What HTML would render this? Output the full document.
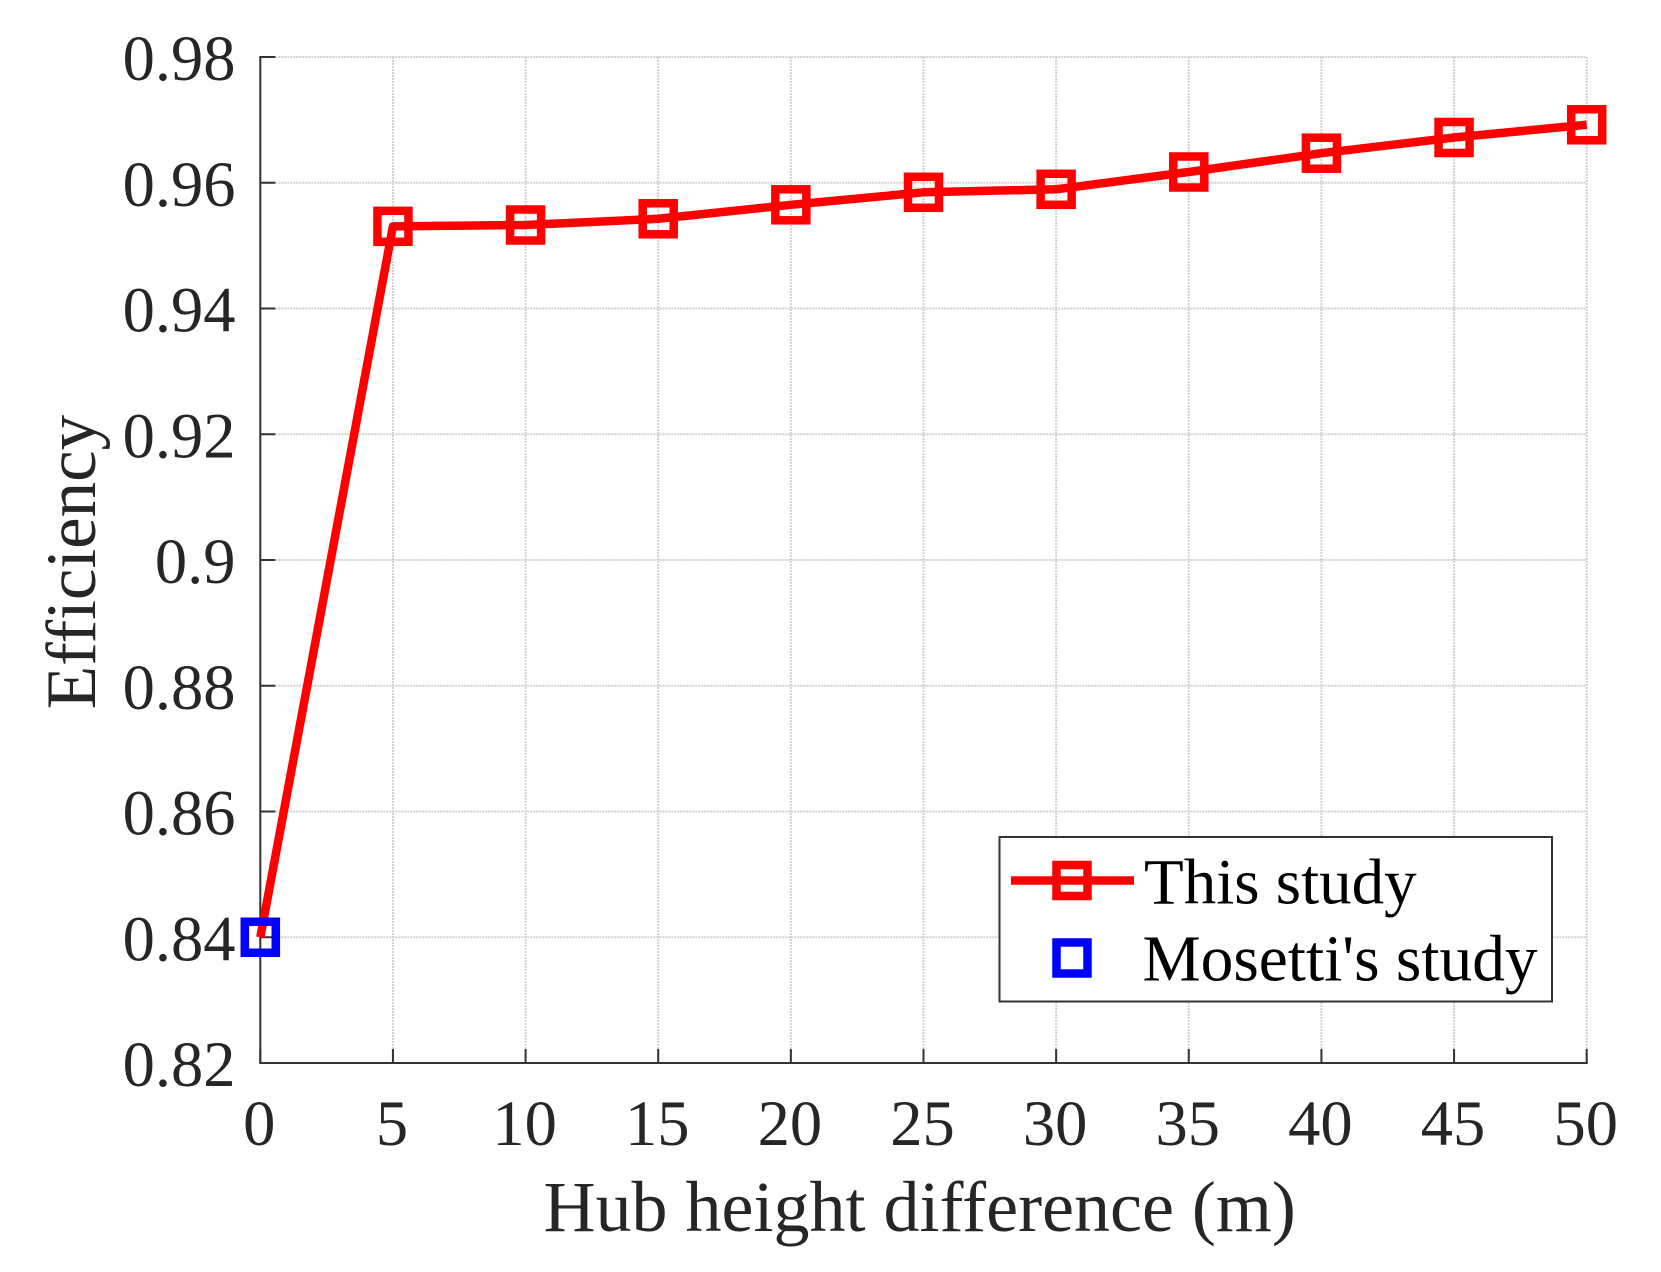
<!DOCTYPE html>
<html lang="en">
<head>
<meta charset="utf-8">
<title>Efficiency vs hub height difference</title>
<style>
  html, body { margin: 0; padding: 0; background: #fff; }
  svg { display: block; font-family: "Liberation Serif", "Times New Roman", serif; }
</style>
</head>
<body>
<svg id="chart" xmlns="http://www.w3.org/2000/svg" width="1661" height="1272" viewBox="0 0 1661 1272">
  <rect x="0" y="0" width="1661" height="1272" fill="#ffffff"/>
  <g id="grid"></g>
  <g id="axes"></g>
  <g id="series"></g>
  <text x="543.5" y="1231" font-size="72" fill="#262626">Hub height difference (m)</text>
  <text transform="translate(95 562) rotate(-90)" text-anchor="middle" font-size="71" fill="#262626">Efficiency</text>
  <g>
    <rect x="999.5" y="837" width="552.5" height="164.5" fill="#ffffff" stroke="#333333" stroke-width="2"/>
    <line x1="1011" y1="880.5" x2="1134" y2="880.5" stroke="#ff0000" stroke-width="8.5"/>
    <rect x="1056.5" y="865" width="31" height="31" fill="none" stroke="#ff0000" stroke-width="8.5"/>
    <text x="1144" y="903.5" font-size="65" fill="#000000">This study</text>
    <rect x="1056.5" y="942.5" width="31" height="31" fill="none" stroke="#0000ff" stroke-width="8.5"/>
    <text x="1142.5" y="980.5" font-size="65.4" fill="#000000">Mosetti's study</text>
  </g>
</svg>
<script>
// Chart data
const xTicks = [0, 5, 10, 15, 20, 25, 30, 35, 40, 45, 50];
const yTicks = [0.82, 0.84, 0.86, 0.88, 0.9, 0.92, 0.94, 0.96, 0.98];
const yTickLabels = ["0.82", "0.84", "0.86", "0.88", "0.9", "0.92", "0.94", "0.96", "0.98"];
const hubHeightDifference = [0, 5, 10, 15, 20, 25, 30, 35, 40, 45, 50];
const thisStudyEfficiency = [0.84, 0.95307, 0.95328, 0.95427, 0.95649, 0.95848, 0.95896, 0.96171, 0.9647, 0.9672, 0.96922];
const mosettiHubHeight = [0];
const mosettiEfficiency = [0.84];

const SVG_NS = "http://www.w3.org/2000/svg";
const plot = { left: 260.3, right: 1586.7, top: 57, bottom: 1063 };
const xMin = 0, xMax = 50, yMin = 0.82, yMax = 0.98;
const xScale = v => plot.left + (v - xMin) / (xMax - xMin) * (plot.right - plot.left);
const yScale = v => plot.bottom - (v - yMin) / (yMax - yMin) * (plot.bottom - plot.top);

function make(tag, attrs, parent) {
  const el = document.createElementNS(SVG_NS, tag);
  for (const k in attrs) el.setAttribute(k, attrs[k]);
  parent.appendChild(el);
  return el;
}

const gridLayer = document.getElementById("grid");
const axesLayer = document.getElementById("axes");
const seriesLayer = document.getElementById("series");
const gridStyle = { stroke: "#d2d2d2", "stroke-width": 2, "stroke-dasharray": "2 1" };
const axisColor = "#333333";
const tickColor = "#262626";

// Grid lines and x ticks
xTicks.forEach(t => {
  const x = xScale(t);
  const g = make("line", Object.assign({ x1: x, x2: x, y1: plot.top, y2: plot.bottom }, gridStyle), gridLayer);
  
  
  const tick = make("line", { x1: x, x2: x, y1: plot.bottom, y2: plot.bottom - 14, stroke: axisColor, "stroke-width": 2 }, axesLayer);
  
  
  const label = make("text", { x: x - 1, y: 1145, "text-anchor": "middle", "font-size": 64.5, fill: tickColor }, axesLayer);
  
  
  label.textContent = String(t);
});

// Grid lines and y ticks
yTicks.forEach((t, i) => {
  const y = yScale(t);
  if (i > 0) {
    const g = make("line", Object.assign({ x1: plot.left, x2: plot.right, y1: y, y2: y }, gridStyle), gridLayer);
    
    
  }
  const tick = make("line", { x1: plot.left, x2: plot.left + 15, y1: y, y2: y, stroke: axisColor, "stroke-width": 2 }, axesLayer);
  
  
  const label = make("text", { x: 235.5, y: y + 23, "text-anchor": "end", "font-size": 64.5, fill: tickColor }, axesLayer);
  
  
  label.textContent = yTickLabels[i];
});

// Axis lines
const xAxis = make("line", { x1: plot.left - 1, x2: plot.right + 1, y1: plot.bottom, y2: plot.bottom, stroke: axisColor, "stroke-width": 2 }, axesLayer);


const yAxis = make("line", { x1: plot.left, x2: plot.left, y1: plot.top - 1, y2: plot.bottom + 1, stroke: axisColor, "stroke-width": 2 }, axesLayer);



// "This study" series
const pts = hubHeightDifference.map((h, i) => xScale(h).toFixed(2) + "," + yScale(thisStudyEfficiency[i]).toFixed(2)).join(" ");
const line = make("polyline", { points: pts, fill: "none", stroke: "#ff0000", "stroke-width": 8.5, "stroke-linejoin": "round" }, seriesLayer);



const markerSize = 31;
hubHeightDifference.forEach((h, i) => {
  const m = make("rect", {
    x: xScale(h) - markerSize / 2,
    y: yScale(thisStudyEfficiency[i]) - markerSize / 2,
    width: markerSize, height: markerSize,
    fill: "none", stroke: "#ff0000", "stroke-width": 8.5
  }, seriesLayer);
  
  
});

// "Mosetti's study" series
mosettiHubHeight.forEach((h, i) => {
  const m = make("rect", {
    x: xScale(h) - markerSize / 2,
    y: yScale(mosettiEfficiency[i]) - markerSize / 2,
    width: markerSize, height: markerSize,
    fill: "none", stroke: "#0000ff", "stroke-width": 8.5
  }, seriesLayer);
  
  
});
</script>
</body>
</html>
